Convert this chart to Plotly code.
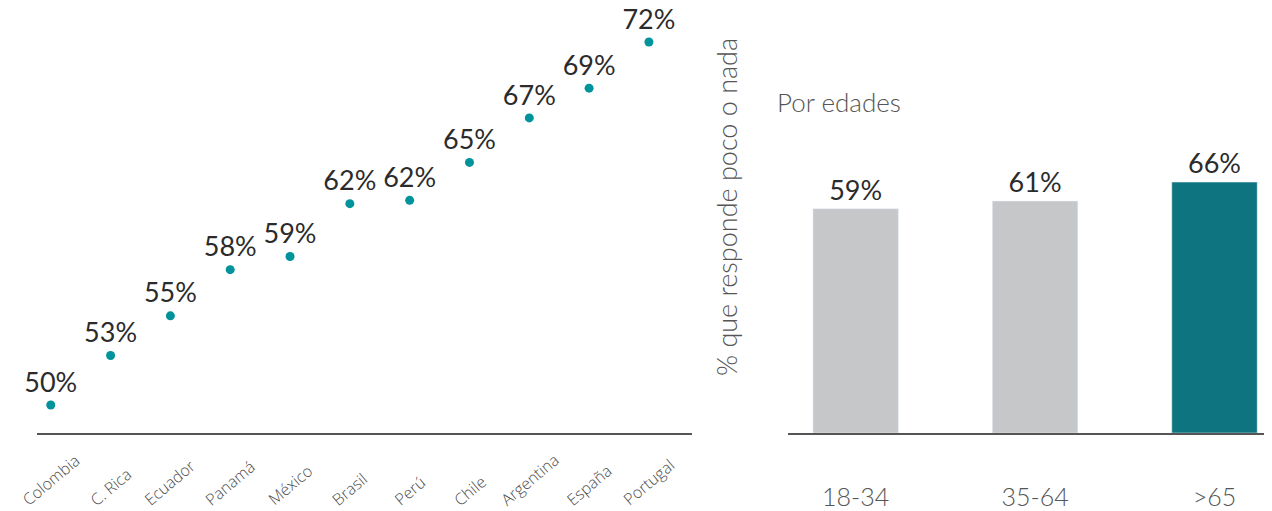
import plotly.graph_objects as go

# Países (gráfico de puntos)
paises = ["Colombia", "C. Rica", "Ecuador", "Panamá", "México", "Brasil",
          "Perú", "Chile", "Argentina", "España", "Portugal"]
pct_paises = [50.0, 53.0, 55.4, 58.2, 59.0, 62.2, 62.4, 64.7, 67.4, 69.2, 72.0]

# Por edades (barras)
edades = ["18-34", "35-64", ">65"]
pct_edades = [59, 61, 66]
colores_edades = ["#c6c7c9", "#c6c7c9", "#0e7480"]

FONT = "Lato"
GRIS = "#555555"
TEXTO = "#2b2b2b"
W, H = 1272, 511
OFF = 8  # margen por defecto del <body> de la página


def px(x):
    return (x - OFF) / W


def py(y):
    return 1 - (y - OFF) / H


fig = go.Figure()

fig.add_trace(go.Scatter(
    x=paises,
    y=pct_paises,
    mode="markers+text",
    marker=dict(color="#00939b", size=9),
    text=[f"{v:.0f}%" for v in pct_paises],
    textposition="top center",
    textfont=dict(family=FONT, size=27, color=TEXTO),
    cliponaxis=False,
    xaxis="x",
    yaxis="y",
    showlegend=False,
))

fig.add_trace(go.Bar(
    x=edades,
    y=pct_edades,
    marker=dict(color=colores_edades),
    width=0.476,
    text=[f"{v}%" for v in pct_edades],
    textposition="outside",
    textfont=dict(family=FONT, size=27, color=TEXTO),
    cliponaxis=False,
    xaxis="x2",
    yaxis="y2",
    showlegend=False,
))

# etiquetas de países giradas, centradas bajo cada punto
anotaciones = [
    dict(
        text=p, x=p, xref="x", y=py(513), yref="paper",
        textangle=-40, showarrow=False,
        font=dict(family="Open Sans", size=16, color="#4a4a4a", weight=300),
    )
    for p in paises
]

anotaciones += [
    dict(
        text="% que responde poco o nada",
        x=px(726), y=py(207), xref="paper", yref="paper",
        textangle=-90, showarrow=False,
        font=dict(family=FONT, size=27, color=GRIS, weight=300),
    ),
    dict(
        text="Por edades",
        x=px(775), y=py(102), xref="paper", yref="paper",
        xanchor="left", yanchor="middle", showarrow=False,
        font=dict(family=FONT, size=26, color=GRIS, weight=300),
    ),
]

fig.update_layout(
    width=W,
    height=H,
    margin=dict(l=0, r=0, t=0, b=0, autoexpand=False),
    paper_bgcolor="white",
    plot_bgcolor="white",
    font=dict(family=FONT, color=GRIS),
    xaxis=dict(
        domain=[px(37), px(692)],
        range=[-0.23, 10.72],
        showline=True, linecolor=GRIS, linewidth=2,
        showgrid=False, zeroline=False, ticks="",
        showticklabels=False,
        automargin=False,
    ),
    yaxis=dict(
        domain=[py(433), 1],
        range=[48.3, 74.06],
        visible=False,
        automargin=False,
    ),
    xaxis2=dict(
        domain=[px(788), 1],
        range=[-0.377, 2.365],
        showline=True, linecolor=GRIS, linewidth=2,
        showgrid=False, zeroline=False, ticks="",
        tickfont=dict(family=FONT, size=25, color=GRIS, weight=300),
        ticklabelstandoff=41,
        anchor="y2",
        automargin=False,
    ),
    yaxis2=dict(
        domain=[py(433), 1],
        range=[0, 111.8],
        visible=False,
        anchor="x2",
        automargin=False,
    ),
    annotations=anotaciones,
)

fig.write_html("out.html")
